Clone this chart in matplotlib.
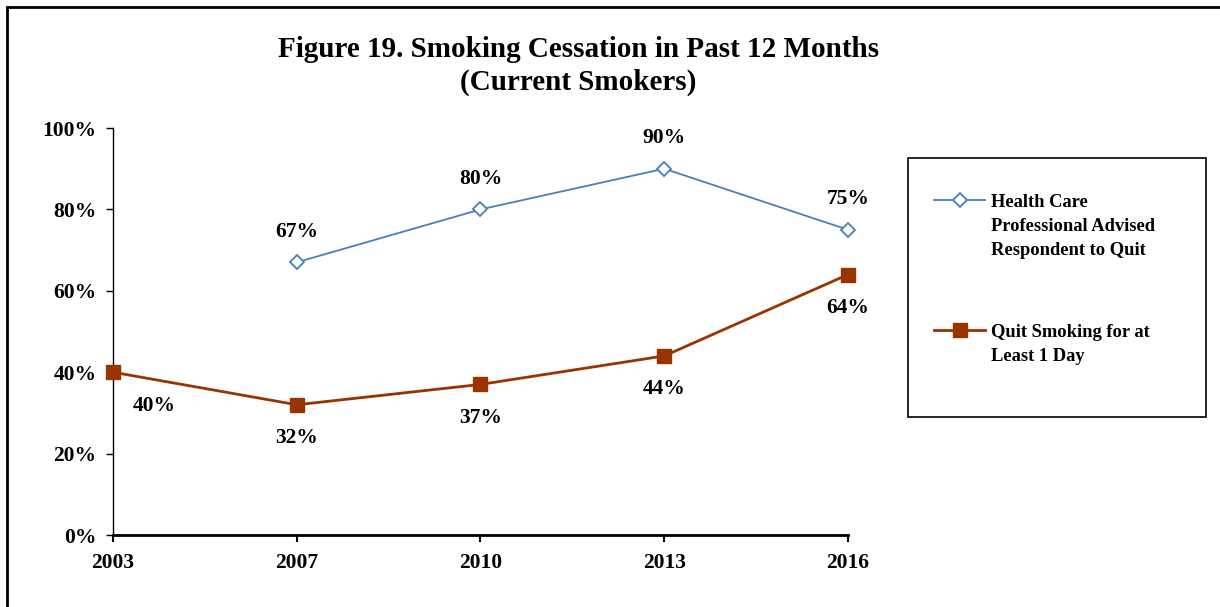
import matplotlib
matplotlib.use("Agg")
import matplotlib.pyplot as plt
from matplotlib.lines import Line2D
from matplotlib.patches import Rectangle
import numpy as np

YEARS = ["2003", "2007", "2010", "2013", "2016"]
ADVISED = [np.nan, 67, 80, 90, 75]
QUIT_1DAY = [40, 32, 37, 44, 64]
ADVISED_LABEL = "Health Care\nProfessional Advised\nRespondent to Quit"
QUIT_LABEL = "Quit Smoking for at\nLeast 1 Day"
TITLE = "Figure 19. Smoking Cessation in Past 12 Months\n(Current Smokers)"

BLUE = "#4A7EBB"
BROWN = "#993300"

plt.rcParams["font.family"] = ["Liberation Serif", "DejaVu Serif"]
plt.rcParams["font.weight"] = "bold"

fig = plt.figure(figsize=(12.2, 6.07), dpi=100)
ax = fig.add_axes([0.0926, 0.1186, 0.6025, 0.6705])

blue_style = dict(color=BLUE, lw=1.3, marker="D", ms=7.5, mfc="white", mec=BLUE, mew=1.3)
brown_style = dict(color=BROWN, lw=2.0, marker="s", ms=10, mfc=BROWN, mec=BROWN)

x = np.arange(len(YEARS))
ax.plot(x, ADVISED, zorder=3, clip_on=False, **blue_style)
ax.plot(x, QUIT_1DAY, zorder=3, clip_on=False, **brown_style)

# data labels: blue above, brown below (first one shifted right)
for xi, v in zip(x, ADVISED):
    if np.isnan(v):
        continue
    ax.annotate(f"{v:.0f}%", (xi, v), xytext=(0, 22), textcoords="offset points",
                ha="center", va="center", fontsize=15.5, fontweight="bold")
for i, (xi, v) in enumerate(zip(x, QUIT_1DAY)):
    dx = 30 if i == 0 else 0
    ax.annotate(f"{v:.0f}%", (xi, v), xytext=(dx, -24), textcoords="offset points",
                ha="center", va="center", fontsize=15.5, fontweight="bold")

ax.set_xlim(0, len(YEARS) - 1)
ax.set_ylim(0, 100)
ax.set_xticks(x)
ax.set_xticklabels(YEARS)
ax.set_yticks(np.arange(0, 101, 20))
ax.set_yticklabels([f"{t}%" for t in range(0, 101, 20)])
for lab in ax.get_xticklabels() + ax.get_yticklabels():
    lab.set_fontsize(15.5)
    lab.set_fontweight("bold")
ax.tick_params(axis="y", direction="out", length=5, width=1, pad=7)
ax.tick_params(axis="x", direction="out", length=5, width=1.5, pad=8)
ax.spines["top"].set_visible(False)
ax.spines["right"].set_visible(False)
ax.spines["left"].set_linewidth(1.0)
ax.spines["bottom"].set_linewidth(2.0)

fig.text(0.474, 0.8915, TITLE, ha="center", va="center", fontsize=21,
         fontweight="bold", linespacing=1.3)

# legend box drawn by hand
fig.patches.append(Rectangle((0.7443, 0.313), 0.2443, 0.4267, transform=fig.transFigure,
                             fill=False, ec="black", lw=1.2))
for y_px, style, label in [(200, blue_style, ADVISED_LABEL), (330, brown_style, QUIT_LABEL)]:
    yf = 1 - y_px / 607
    line_kw = {k: v for k, v in style.items() if k in ("color", "lw")}
    mark_kw = {k: v for k, v in style.items() if k != "lw"}
    fig.lines.append(Line2D([934 / 1220, 985 / 1220], [yf, yf],
                            transform=fig.transFigure, **line_kw))
    fig.lines.append(Line2D([960 / 1220], [yf], ls="none",
                            transform=fig.transFigure, **mark_kw))
    fig.text(991 / 1220, yf + 0.0097, label, ha="left", va="top", fontsize=13.3,
             fontweight="bold", linespacing=1.52)

# outer frame (top and left edges visible, rest runs off the image)
fig.patches.append(Rectangle((7 / 1220, -0.05), 1.1, 1 - 7 / 607 + 0.05,
                             transform=fig.transFigure, fill=False, ec="black", lw=2))

fig.savefig("out.png", dpi=100)
